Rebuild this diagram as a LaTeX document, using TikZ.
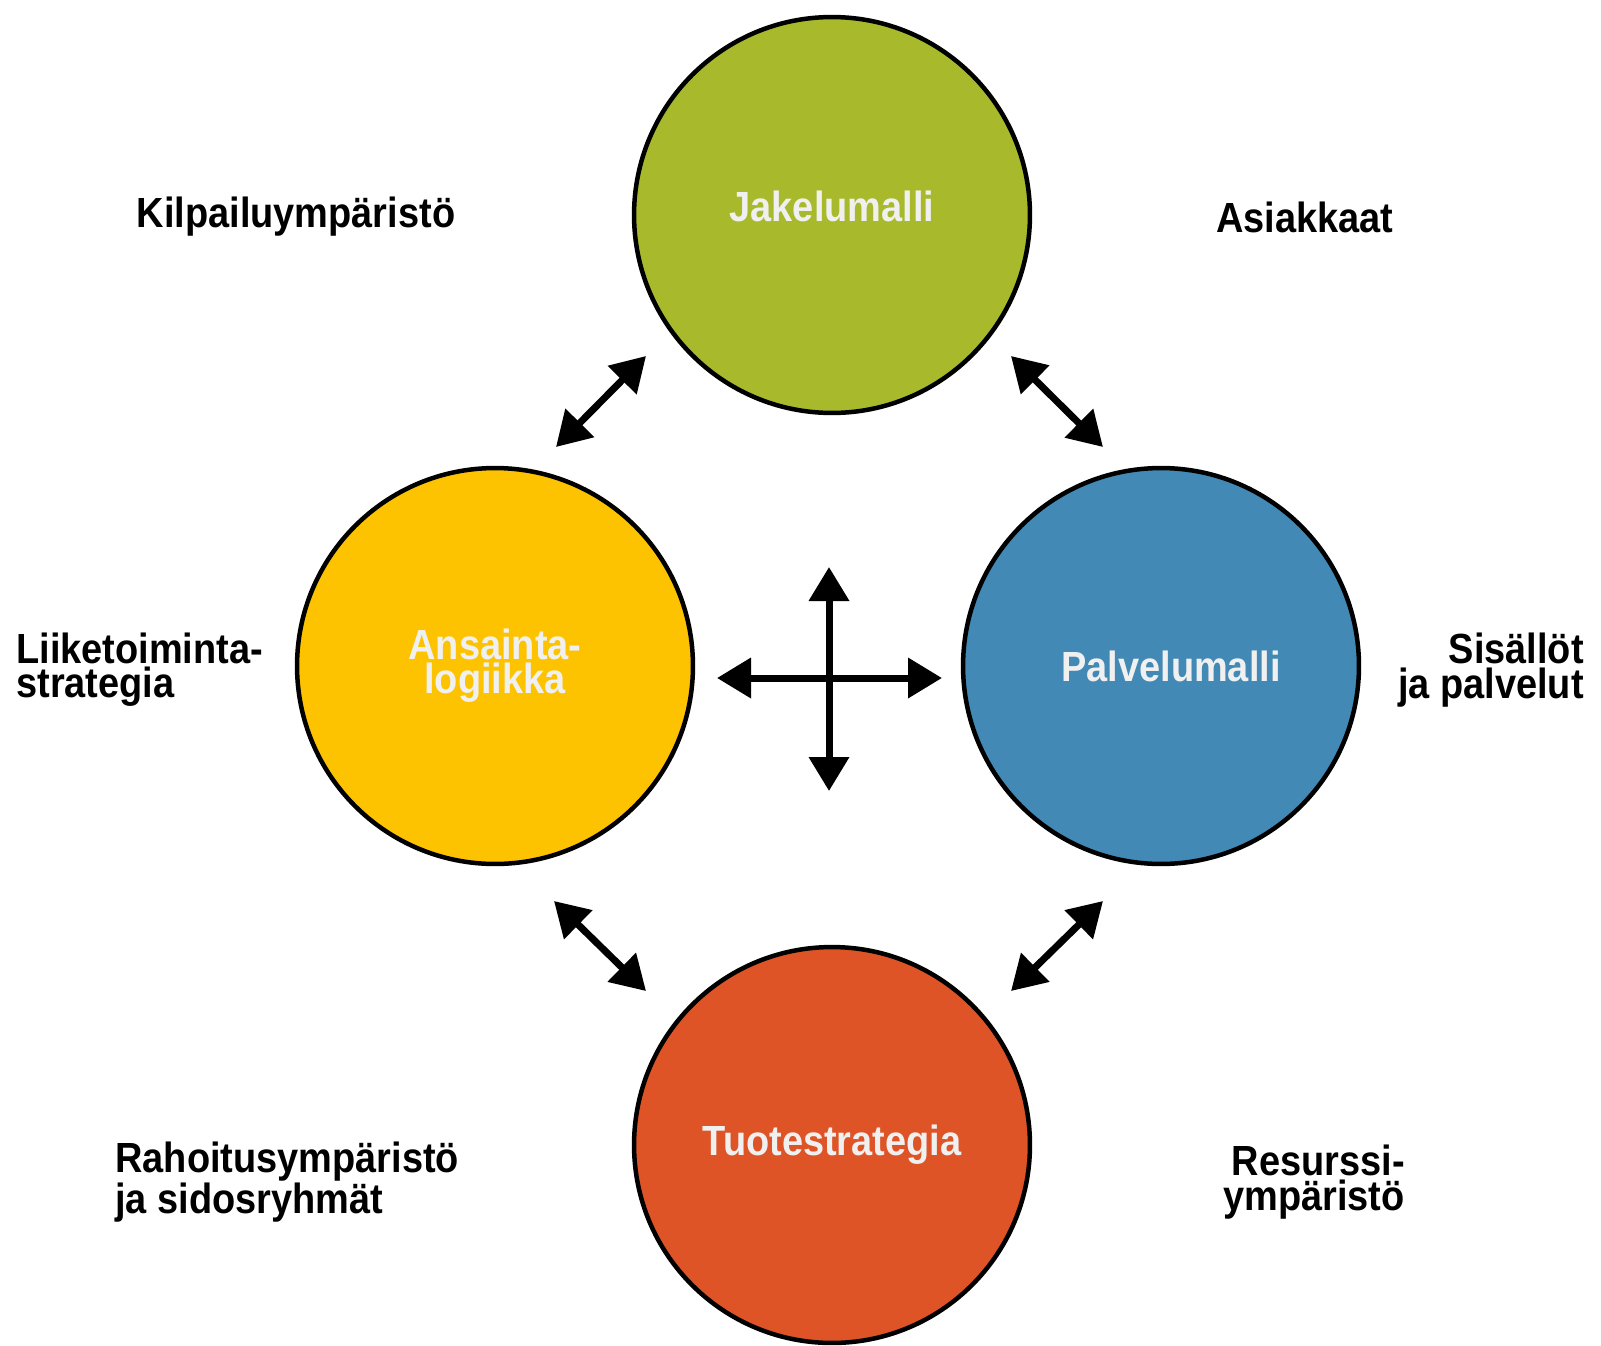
\documentclass[tikz,border=0pt]{standalone}
\usepackage{fontspec}
\setmainfont{Liberation Sans}[FakeStretch=0.9]
\usepackage{tikz}
\usetikzlibrary{arrows.meta,positioning}

\definecolor{jakgreen}{HTML}{A8BA2C}
\definecolor{ansyellow}{HTML}{FDC300}
\definecolor{palblue}{HTML}{4289B5}
\definecolor{tuored}{HTML}{DE5427}

\begin{document}
\begin{tikzpicture}[x=0.02cm,y=0.02cm,
  ball/.style={circle,draw,line width=0.09cm,minimum size=7.92cm,inner sep=0pt,
    text=white!94!black,align=center,font=\fontsize{24}{19.5}\selectfont\bfseries},
  lbl/.style={inner sep=0pt,font=\fontsize{24}{19.5}\selectfont\bfseries},
  twoway/.style={line width=0.14cm,
    {Triangle[length=0.68cm,width=0.78cm]}-{Triangle[length=0.68cm,width=0.78cm]}}]
  \useasboundingbox (0,-1345) rectangle (1601,0);
  % the four circles
  \node [ball,fill=jakgreen] (jak) at (832,-215) {\raisebox{0.35cm}{Jakelumalli}};
  \node [ball,fill=ansyellow] (ans) at (495,-666) {Ansainta-\\logiikka};
  \node [ball,fill=palblue] (pal) at (1161,-666) {\hspace*{0.4cm}Palvelumalli};
  \node [ball,fill=tuored] (tuo) at (832,-1145) {Tuotestrategia};
  % surroundings
  \node [lbl] (kil) at (296,-217) {Kilpailuympäristö};
  \node [lbl] (asi) at (1305,-217) {Asiakkaat};
  \node [lbl,align=left,anchor=west] (lii) at (16,-670) {Liiketoiminta-\\strategia};
  \node [lbl,align=right,anchor=east] (sis) at (1584,-670) {Sisällöt\\ja palvelut};
  \node [lbl,align=left,anchor=west] (rah) at (115,-1182) {Rahoitusympäristö\\ja sidosryhmät};
  \node [lbl,align=right,anchor=east] (res) at (1405,-1182) {Resurssi-\\ympäristö};
  % arrow ends
  \coordinate (nw1) at (556,-447);  \coordinate (nw2) at (646,-356);
  \coordinate (ne1) at (1011,-356); \coordinate (ne2) at (1103,-447);
  \coordinate (sw1) at (554,-901);  \coordinate (sw2) at (646,-991);
  \coordinate (se1) at (1103,-901); \coordinate (se2) at (1011,-991);
  \coordinate (up) at (829,-567);   \coordinate (down) at (829,-791);
  \coordinate (left) at (717,-678); \coordinate (right) at (942,-678);
  \draw [twoway] (nw1) -- (nw2);
  \draw [twoway] (ne1) -- (ne2);
  \draw [twoway] (sw1) -- (sw2);
  \draw [twoway] (se1) -- (se2);
  \draw [twoway] (up) -- (down);
  \draw [twoway] (left) -- (right);
\end{tikzpicture}
\end{document}
